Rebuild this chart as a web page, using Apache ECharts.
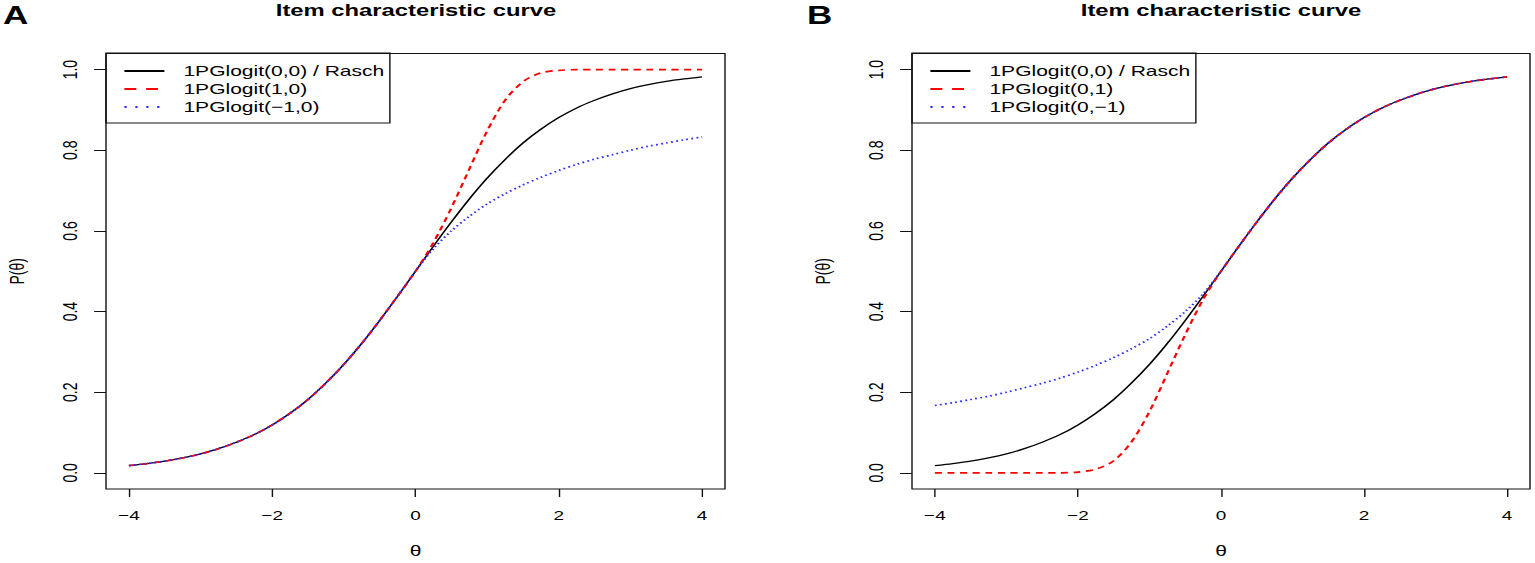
<!DOCTYPE html>
<html>
<head>
<meta charset="utf-8">
<script src="https://cdn.jsdelivr.net/npm/echarts@6/dist/echarts.min.js"></script>
<style>
html,body{margin:0;padding:0;background:#fff;overflow:hidden}
#wrap{width:1535px;height:563px;overflow:hidden}
#chart{width:1096px;height:563px;transform:scaleX(1.400547);transform-origin:0 0}
</style>
</head>
<body>
<div id="wrap"><div id="chart"></div></div>
<script>
// ---- data ----
const theta = [-4, -3.75, -3.5, -3.25, -3, -2.75, -2.5, -2.25, -2, -1.75, -1.5, -1.25, -1, -0.75, -0.5, -0.25,
  0, 0.25, 0.5, 0.75, 1, 1.25, 1.5, 1.75, 2, 2.25, 2.5, 2.75, 3, 3.25, 3.5, 3.75, 4];

const rasch = [0.018, 0.023, 0.029, 0.037, 0.047, 0.060, 0.076, 0.095, 0.119, 0.148, 0.182, 0.223, 0.269, 0.321, 0.378, 0.438,
  0.500, 0.562, 0.622, 0.679, 0.731, 0.777, 0.818, 0.852, 0.881, 0.905, 0.924, 0.940, 0.953, 0.963, 0.971, 0.977, 0.982];

const pg10 = [0.018, 0.023, 0.029, 0.037, 0.047, 0.060, 0.076, 0.095, 0.119, 0.148, 0.182, 0.223, 0.269, 0.321, 0.378, 0.438,
  0.500, 0.571, 0.657, 0.753, 0.848, 0.924, 0.970, 0.992, 0.998, 1.000, 1.000, 1.000, 1.000, 1.000, 1.000, 1.000, 1.000];

const pgm10 = [0.018, 0.023, 0.029, 0.037, 0.047, 0.060, 0.076, 0.095, 0.119, 0.148, 0.182, 0.223, 0.269, 0.321, 0.378, 0.438,
  0.500, 0.556, 0.600, 0.636, 0.667, 0.692, 0.714, 0.733, 0.750, 0.765, 0.778, 0.789, 0.800, 0.810, 0.818, 0.826, 0.833];

const pg01 = [0.000, 0.000, 0.000, 0.000, 0.000, 0.000, 0.000, 0.000, 0.002, 0.009, 0.030, 0.077, 0.152, 0.247, 0.343, 0.430,
  0.500, 0.562, 0.622, 0.679, 0.731, 0.777, 0.818, 0.852, 0.881, 0.905, 0.924, 0.940, 0.953, 0.963, 0.971, 0.977, 0.982];

const pg0m1 = [0.167, 0.174, 0.182, 0.190, 0.200, 0.211, 0.222, 0.235, 0.250, 0.267, 0.286, 0.308, 0.333, 0.364, 0.400, 0.444,
  0.500, 0.562, 0.622, 0.679, 0.731, 0.777, 0.818, 0.852, 0.881, 0.905, 0.924, 0.940, 0.953, 0.963, 0.971, 0.977, 0.982];

const xTicks = [-4, -2, 0, 2, 4];
const yTicks = [0, 0.2, 0.4, 0.6, 0.8, 1.0];

const namesA = ['1PGlogit(0,0) / Rasch', '1PGlogit(1,0)', '1PGlogit(\u22121,0)'];
const namesB = ['1PGlogit(0,0) / Rasch', '1PGlogit(0,1)', '1PGlogit(0,\u22121)'];
const panelTitle = 'Item characteristic curve';
const panelLetters = ['A', 'B'];
const xName = '\u03b8';
const yName = 'P(\u03b8)';

// ---- layout (page is stretched horizontally by S) ----
const S = 1535 / 1096;
const X = v => v / S;
const FONT = 'Liberation Sans';
const INK = '#111';

const pair = ys => theta.map((t, i) => [t, ys[i]]);

const styles = [
  {color: '#000000', width: 1.3, type: 'solid', legendType: 'solid'},
  {color: '#ff0000', width: 1.7, type: [5, 4], legendType: [8.5, 7]},
  {color: '#2f2fff', width: 1.7, type: [1.3, 2.4], legendType: [1.6, 6.2]}
];

function xAxis(g) {
  return {
    type: 'value', gridIndex: g, min: -4.32, max: 4.32,
    axisLine: {show: false, onZero: false},
    axisTick: {show: true, customValues: xTicks, length: 8, lineStyle: {color: INK, width: 1}},
    axisLabel: {customValues: xTicks, margin: 19, fontSize: 13.5, color: '#000', fontFamily: FONT,
      formatter: v => (v < 0 ? '\u2212' + Math.abs(v) : String(v))},
    splitLine: {show: false},
    name: xName, nameLocation: 'middle', nameGap: 54,
    nameTextStyle: {fontSize: 15, color: '#000', fontFamily: FONT}
  };
}
function yAxis(g) {
  return {
    type: 'value', gridIndex: g, min: -0.04, max: 1.04,
    axisLine: {show: false, onZero: false},
    axisTick: {show: true, customValues: yTicks, length: 8.5, lineStyle: {color: INK, width: 1}},
    axisLabel: {customValues: yTicks, rotate: 90, margin: 18, fontSize: 14, color: '#000', fontFamily: FONT,
      formatter: v => v.toFixed(1)},
    splitLine: {show: false},
    name: yName, nameLocation: 'middle', nameGap: 56, nameRotate: 90,
    nameTextStyle: {fontSize: 14, color: '#000', fontFamily: FONT}
  };
}
function legend(g, names, left) {
  return {
    data: names.map((n, i) => ({name: n, lineStyle: {type: styles[i].legendType}})),
    orient: 'vertical', left: left, top: 53,
    selectedMode: false,
    itemWidth: X(40), itemHeight: 18, itemGap: 0,
    padding: [9, 4, 7, X(17)],
    borderColor: INK, borderWidth: 1, borderRadius: 0,
    itemStyle: {opacity: 0, borderWidth: 0, color: 'transparent'},
    textStyle: {fontSize: 15, color: '#000', fontFamily: FONT, lineHeight: 18, padding: [0, 0, 0, 8.6]}
  };
}
function series(g, name, ys, st) {
  return {
    type: 'line', name: name, xAxisIndex: g, yAxisIndex: g,
    data: pair(ys), showSymbol: false, symbol: 'none', smooth: 0.3,
    lineStyle: {color: st.color, width: st.width, type: st.type},
    itemStyle: {color: st.color},
    emphasis: {disabled: true}, silent: true
  };
}

const chart = echarts.init(document.getElementById('chart'), null, {renderer: 'svg'});
chart.setOption({
  animation: false,
  backgroundColor: '#fff',
  textStyle: {fontFamily: FONT},
  title: [
    {text: panelLetters[0], left: X(3), top: 2, padding: 0,
      textStyle: {fontSize: 25, fontWeight: 'bold', color: '#000', fontFamily: FONT}},
    {text: panelLetters[1], left: X(807), top: 2, padding: 0,
      textStyle: {fontSize: 25, fontWeight: 'bold', color: '#000', fontFamily: FONT}},
    {text: panelTitle, left: X(416), textAlign: 'center', top: 1, padding: 0,
      textStyle: {fontSize: 17, fontWeight: 'bold', color: '#000', fontFamily: FONT}},
    {text: panelTitle, left: X(1221), textAlign: 'center', top: 1, padding: 0,
      textStyle: {fontSize: 17, fontWeight: 'bold', color: '#000', fontFamily: FONT}}
  ],
  grid: [
    {left: X(106), top: 53.5, width: X(619), height: 439, show: true, borderColor: INK, borderWidth: 1, backgroundColor: 'transparent'},
    {left: X(912), top: 53.5, width: X(618), height: 439, show: true, borderColor: INK, borderWidth: 1, backgroundColor: 'transparent'}
  ],
  xAxis: [xAxis(0), xAxis(1)],
  yAxis: [yAxis(0), yAxis(1)],
  legend: [legend(0, namesA, X(106)), legend(1, namesB, X(912))],
  series: [
    series(0, namesA[0], rasch, styles[0]),
    series(0, namesA[1], pg10, styles[1]),
    series(0, namesA[2], pgm10, styles[2]),
    series(1, namesB[0], rasch, styles[0]),
    series(1, namesB[1], pg01, styles[1]),
    series(1, namesB[2], pg0m1, styles[2])
  ]
});
</script>
</body>
</html>
